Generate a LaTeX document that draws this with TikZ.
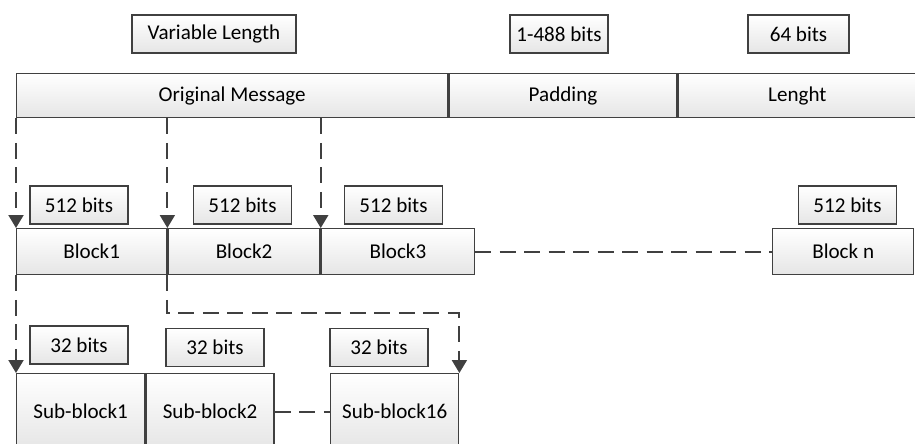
\documentclass[tikz,border=0pt]{standalone}
\usepackage{fontspec}
\setmainfont{Carlito}
\usepackage{tikz}
\usetikzlibrary{arrows.meta, positioning}

\begin{document}
\begin{tikzpicture}[x=0.02cm, y=-0.02cm, font=\fontsize{12}{14}\selectfont]
\tikzstyle{cell} = [rectangle, draw=black!75, line width=0.8pt, top color=white, bottom color=black!10, inner sep=0pt, minimum height=0.88cm, text centered]
\tikzstyle{tag} = [rectangle, draw=black!75, line width=0.8pt, top color=white, bottom color=black!10, inner sep=0pt, minimum width=1.96cm, minimum height=0.76cm]
\tikzstyle{link} = [draw=black!75, line width=1.1pt, dash pattern=on 0.32cm off 0.17cm]
\tikzstyle{arrow} = [link, -{Triangle[width=0.3cm, length=0.26cm]}]

\useasboundingbox (0,0) rectangle (915,443);

% message layout
\node (vl) [tag, minimum width=3.28cm] at (214,34) {Variable Length};
\node (pl) [tag] at (559,34) {1-488 bits};
\node (ll) [tag, minimum width=2.02cm] at (798.5,34) {64 bits};

\node (msg) [cell, minimum width=8.62cm, anchor=north west] at (16,73) {Original Message};
\node (pad) [cell, minimum width=4.56cm, right=0pt of msg] {Padding};
\node (len) [cell, minimum width=4.76cm, right=0pt of pad] {Lenght};

% 512-bit blocks
\node (b1) [cell, minimum width=3cm, minimum height=0.92cm, anchor=north west] at (16,228) {Block1};
\node (b2) [cell, minimum width=3.04cm, minimum height=0.92cm, right=0pt of b1] {Block2};
\node (b3) [cell, minimum width=3.06cm, minimum height=0.92cm, right=0pt of b2] {Block3};
\node (bn) [cell, minimum width=2.82cm, minimum height=0.92cm, anchor=north west] at (772,228) {Block n};

\node (t1) [tag] at (79,205) {512 bits};
\node (t2) [tag] at (242.5,205) {512 bits};
\node (t3) [tag] at (393.5,205) {512 bits};
\node (tn) [tag] at (847.5,205) {512 bits};

% 32-bit sub-blocks
\node (s1) [cell, minimum width=2.56cm, minimum height=1.52cm, anchor=north west] at (16,373) {Sub-block1};
\node (s2) [cell, minimum width=2.56cm, minimum height=1.52cm, right=0pt of s1] {Sub-block2};
\node (s16) [cell, minimum width=2.56cm, minimum height=1.52cm, anchor=north west] at (330,373) {Sub-block16};

\node (u1) [tag] at (79,345) {32 bits};
\node (u2) [tag] at (215,347.5) {32 bits};
\node (u3) [tag] at (379,347.5) {32 bits};

\draw [arrow] (msg.south west) -- (b1.north west);
\draw [arrow] (msg.south west -| b2.north west) -- (b2.north west);
\draw [arrow] (msg.south west -| b3.north west) -- (b3.north west);
\draw [link] (b3.east) -- (bn.west);

\draw [arrow] (b1.south west) -- (s1.north west);
\draw [arrow] (b2.south west) -- ++(0,38) -| (s16.north east);
\draw [link] (s2.east) -- (s16.west);

\end{tikzpicture}
\end{document}
